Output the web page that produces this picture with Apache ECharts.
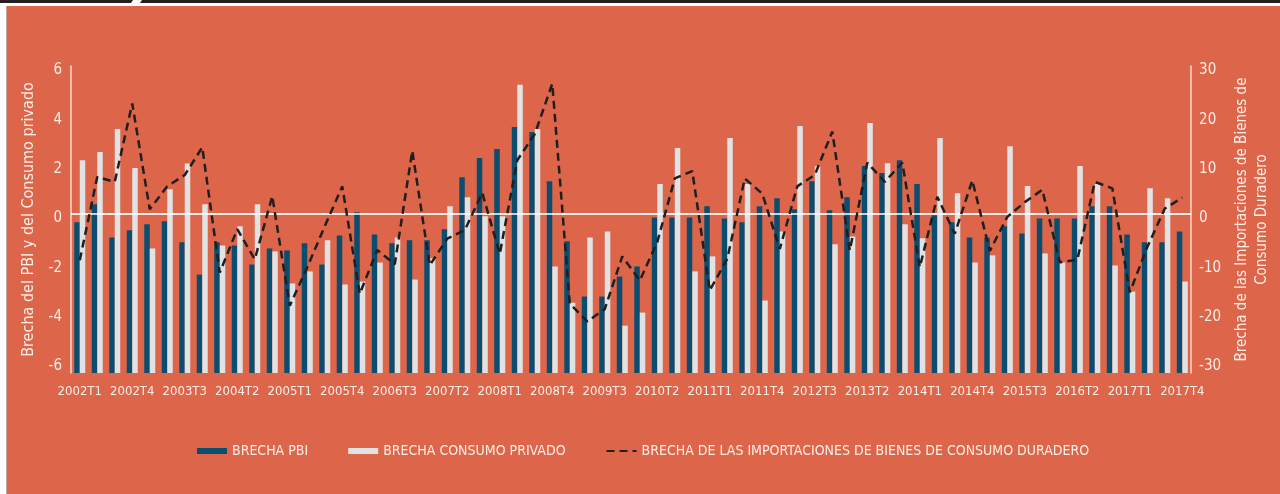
<!DOCTYPE html>
<html>
<head>
<meta charset="utf-8">
<script src="https://cdn.jsdelivr.net/npm/echarts@6/dist/echarts.min.js"></script>
<style>
html,body{margin:0;padding:0;width:1280px;height:494px;background:#fff;overflow:hidden}
#topbar{position:absolute;left:0;top:0;width:1280px;height:3px;background:#231f20}
#gap{position:absolute;left:132px;top:0;width:9px;height:3px;background:#fff;transform:skewX(-35deg)}
#bg{position:absolute;left:6px;top:6px;width:1274px;height:488px;background:#DD654A;border-left:1px solid #c7a79c}
#chart{position:absolute;left:0;top:0;width:1280px;height:494px}
</style>
</head>
<body>
<div id="topbar"></div><div id="gap"></div>
<div id="bg"></div>
<div id="chart"></div>
<script>
const quarters = [
 '2002T1','2002T2','2002T3','2002T4','2003T1','2003T2','2003T3','2003T4',
 '2004T1','2004T2','2004T3','2004T4','2005T1','2005T2','2005T3','2005T4',
 '2006T1','2006T2','2006T3','2006T4','2007T1','2007T2','2007T3','2007T4',
 '2008T1','2008T2','2008T3','2008T4','2009T1','2009T2','2009T3','2009T4',
 '2010T1','2010T2','2010T3','2010T4','2011T1','2011T2','2011T3','2011T4',
 '2012T1','2012T2','2012T3','2012T4','2013T1','2013T2','2013T3','2013T4',
 '2014T1','2014T2','2014T3','2014T4','2015T1','2015T2','2015T3','2015T4',
 '2016T1','2016T2','2016T3','2016T4','2017T1','2017T2','2017T3','2017T4'
];

const brechaPBI = [
 -0.34,0.39,-0.95,-0.66,-0.42,-0.30,-1.15,-2.46,-1.15,-1.28,-2.05,-1.40,-1.48,-1.19,
 -2.05,-0.87,0.07,-0.83,-1.19,-1.07,-1.07,-0.62,1.49,2.27,2.63,3.53,3.32,1.33,
 -1.11,-3.35,-3.35,-2.54,-2.13,-0.14,-0.14,-0.14,0.31,-0.18,-0.34,0.31,0.64,
 0.19,1.33,0.15,0.68,1.94,1.66,2.18,1.21,-0.05,-0.34,-0.95,-0.95,-0.50,
 -0.79,-0.18,-0.18,-0.18,0.31,0.31,-0.83,-1.15,-1.15,-0.71
];

const brechaConsumo = [
 2.18,2.51,3.45,1.86,-1.40,1.00,2.05,0.39,-1.28,-0.50,0.39,-1.52,-2.82,-2.33,
 -1.07,-2.86,-2.74,-1.97,-0.95,-2.66,-1.80,0.31,0.68,-0.09,-0.09,5.24,3.45,-2.13,
 -3.60,-0.95,-0.71,-4.53,-4.00,1.21,2.67,-2.33,-1.72,3.08,1.21,-3.51,-0.71,
 3.57,1.94,-1.23,-0.91,3.69,2.06,-0.42,-0.99,3.08,0.84,-1.97,-1.68,2.75,
 1.13,-1.60,-1.97,1.94,1.21,-2.09,-3.15,1.04,0.64,-2.74
];

const brechaImport = [
 -9.4,7.5,6.5,22.4,0.95,5.6,7.9,13.5,-11.9,-3.1,-9.2,3.6,-18.6,-10.8,
 -2.5,5.6,-16.2,-7.3,-10.2,12.8,-10.4,-5.0,-3.3,4.3,-8.1,10.9,16.2,26.4,
 -18.2,-21.8,-19.3,-8.6,-13.5,-5.7,7.2,8.7,-15.5,-9.1,7.2,4.1,-7.1,
 5.6,7.9,16.7,-7.4,10.4,6.5,10.4,-10.8,3.5,-4.0,6.8,-7.5,-0.6,
 2.4,4.9,-9.8,-9.3,6.5,5.2,-15.9,-6.7,1.1,3.3
];

const leftTicks = [-6,-4,-2,0,2,4,6];
const rightTicks = [-30,-20,-10,0,10,20,30];

const FONT = "'Liberation Sans Narrow','DejaVu Sans Condensed','Roboto Condensed','Noto Sans',sans-serif";
const TXT = '#fdeee8';
const AXC = '#f6d9cf';

const chart = echarts.init(document.getElementById('chart'), null, {renderer:'canvas'});
chart.setOption({
  animation:false,
  backgroundColor:'transparent',
  textStyle:{fontFamily:FONT},
  grid:{left:71,right:82,top:66,bottom:121,containLabel:false},
  legend:{
    left:197, top:444, padding:0,
    itemWidth:30, itemHeight:6, itemGap:40,
    textStyle:{color:TXT,fontSize:14,fontFamily:FONT},
    data:[
      {name:'BRECHA PBI',icon:'rect'},
      {name:'BRECHA CONSUMO PRIVADO',icon:'rect'},
      {name:'BRECHA DE LAS IMPORTACIONES DE BIENES DE CONSUMO DURADERO',itemStyle:{opacity:0}}
    ]
  },
  xAxis:{
    type:'category', data:quarters,
    axisLine:{show:true,lineStyle:{color:AXC,width:1.5}},
    axisTick:{show:false},
    axisLabel:{interval:2,color:TXT,fontSize:13,margin:12,fontFamily:FONT}
  },
  yAxis:[
    {
      type:'value', min:-6.45, max:6, startValue:-6.45,
      position:'left',
      axisLine:{show:true,lineStyle:{color:AXC,width:1.5}},
      axisTick:{show:false},
      splitLine:{show:false},
      axisLabel:{customValues:leftTicks,color:TXT,fontSize:15,margin:9,verticalAlign:'top',lineHeight:9,fontFamily:FONT},
      name:'Brecha del PBI y del Consumo privado',
      nameLocation:'middle', nameRotate:90, nameGap:34,
      nameTextStyle:{color:TXT,fontSize:16,fontFamily:FONT}
    },
    {
      type:'value', min:-32.25, max:30, startValue:-32.25,
      position:'right',
      axisLine:{show:true,lineStyle:{color:AXC,width:1.5}},
      axisTick:{show:false},
      splitLine:{show:false},
      axisLabel:{customValues:rightTicks,color:TXT,fontSize:15,margin:8,verticalAlign:'top',lineHeight:9,fontFamily:FONT},
      name:'Brecha de las Importaciones de Bienes de\nConsumo Duradero',
      nameLocation:'middle', nameRotate:90, nameGap:40,
      nameTextStyle:{color:TXT,fontSize:15,lineHeight:20,fontFamily:FONT,align:'center'}
    }
  ],
  series:[
    {
      name:'BRECHA PBI', type:'bar', data:brechaPBI,
      barWidth:5.5, barGap:'0%',
      itemStyle:{color:'#0B4D6F'},
      markLine:{
        silent:true, symbol:['none','none'], label:{show:false},
        lineStyle:{color:'#ffffff',width:1.5,type:'solid'},
        data:[{yAxis:0}]
      }
    },
    {
      name:'BRECHA CONSUMO PRIVADO', type:'bar', data:brechaConsumo,
      barWidth:5.5, barGap:'0%',
      itemStyle:{color:'#E1E2E4'}
    },
    {
      name:'BRECHA DE LAS IMPORTACIONES DE BIENES DE CONSUMO DURADERO',
      type:'line', yAxisIndex:1, data:brechaImport,
      symbol:'none', smooth:false, z:10,
      lineStyle:{color:'#1f1f1f',width:2.5,type:[8,5]},
      itemStyle:{color:'#1f1f1f'}
    }
  ]
});
</script>
</body>
</html>
